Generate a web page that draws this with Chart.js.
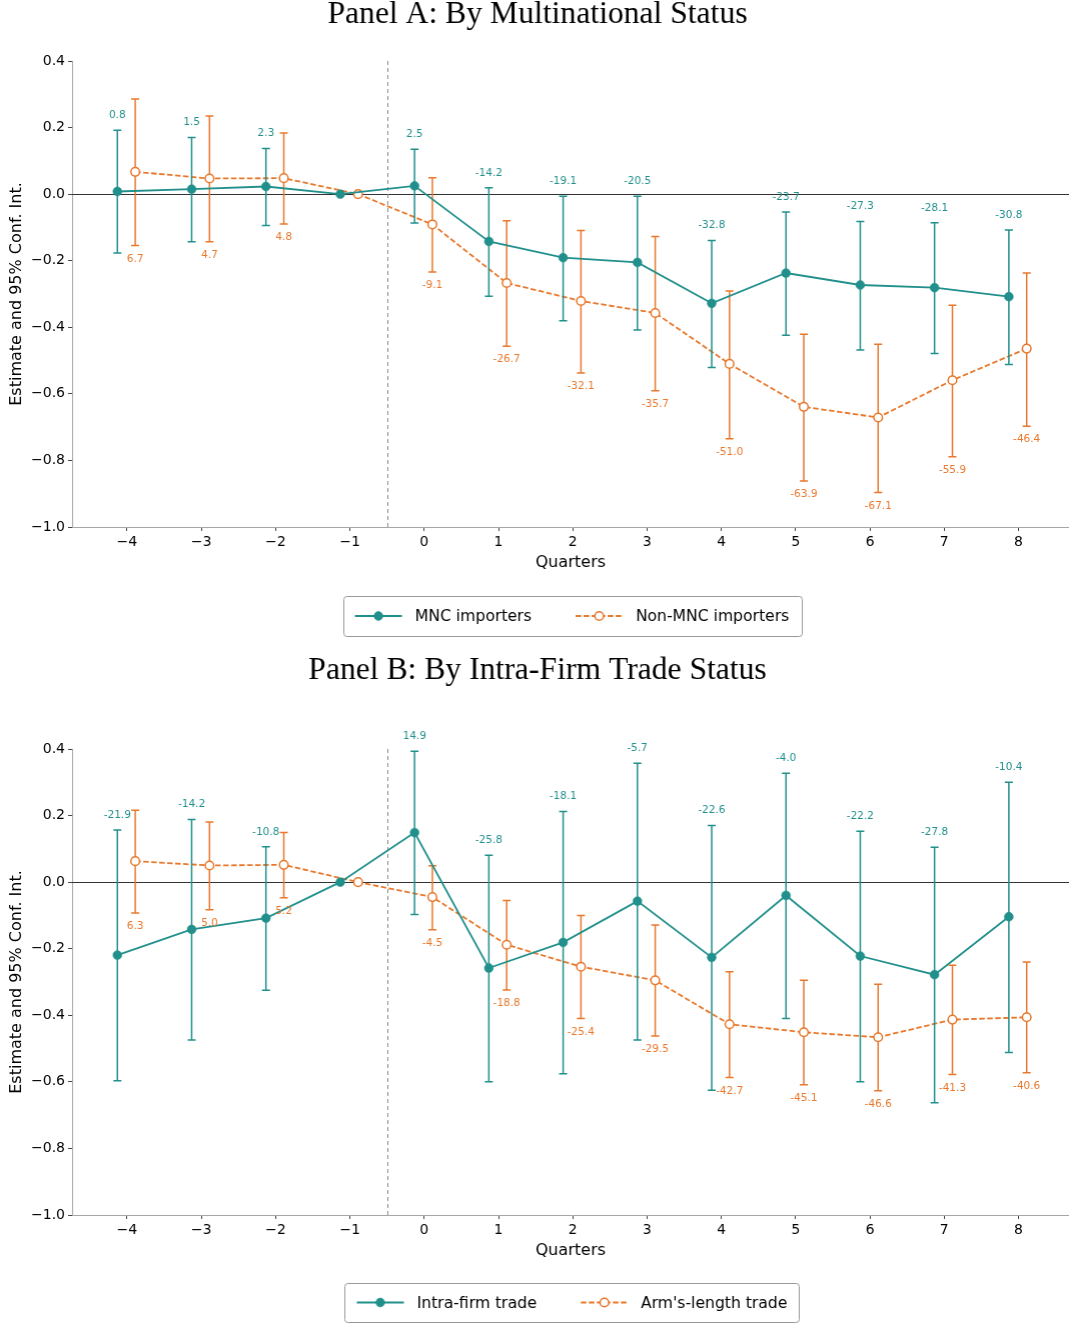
<!DOCTYPE html>
<html>
<head>
<meta charset="utf-8">
<script src="https://cdn.jsdelivr.net/npm/chart.js@4.4.0/dist/chart.umd.min.js"></script>
<style>
  body { margin: 0; background: #fff; width: 1069px; height: 1323px; overflow: hidden; position: relative; }
  .panel { position: absolute; left: 0; width: 1069px; }
</style>
</head>
<body>
<div class="panel" id="wrapA" style="top:0;height:640px"><canvas id="chartA"></canvas></div>
<div class="panel" id="wrapB" style="top:640px;height:683px"><canvas id="chartB"></canvas></div>
<script>
// --- data ---
const quarters = [-4, -3, -2, -1, 0, 1, 2, 3, 4, 5, 6, 7, 8];
const yTicks = [-1.0, -0.8, -0.6, -0.4, -0.2, 0.0, 0.2, 0.4];

// Panel A: by multinational status
const mncEst = [0.008, 0.015, 0.023, 0, 0.025, -0.142, -0.191, -0.205, -0.328, -0.237, -0.273, -0.281, -0.308];
const mncLo  = [-0.177, -0.143, -0.094, null, -0.087, -0.307, -0.380, -0.408, -0.521, -0.424, -0.468, -0.479, -0.512];
const mncHi  = [0.192, 0.170, 0.137, null, 0.135, 0.019, -0.006, -0.006, -0.139, -0.054, -0.082, -0.086, -0.108];
const nonEst = [0.067, 0.047, 0.048, 0, -0.091, -0.267, -0.321, -0.357, -0.510, -0.639, -0.671, -0.559, -0.464];
const nonLo  = [-0.154, -0.143, -0.090, null, -0.234, -0.457, -0.537, -0.591, -0.735, -0.862, -0.896, -0.789, -0.697];
const nonHi  = [0.286, 0.235, 0.184, null, 0.049, -0.080, -0.109, -0.127, -0.291, -0.421, -0.451, -0.334, -0.237];

// Panel B: by intra-firm trade status
const intraEst = [-0.219, -0.142, -0.108, 0, 0.149, -0.258, -0.181, -0.057, -0.226, -0.040, -0.222, -0.278, -0.104];
const intraLo  = [-0.597, -0.474, -0.325, null, -0.097, -0.600, -0.576, -0.474, -0.625, -0.410, -0.600, -0.663, -0.512];
const intraHi  = [0.157, 0.188, 0.106, null, 0.393, 0.081, 0.212, 0.357, 0.170, 0.327, 0.153, 0.105, 0.300];
const armEst = [0.063, 0.050, 0.052, 0, -0.045, -0.188, -0.254, -0.295, -0.427, -0.451, -0.466, -0.413, -0.406];
const armLo  = [-0.093, -0.083, -0.047, null, -0.143, -0.324, -0.410, -0.462, -0.587, -0.609, -0.627, -0.578, -0.573];
const armHi  = [0.216, 0.181, 0.149, null, 0.049, -0.055, -0.100, -0.129, -0.269, -0.295, -0.307, -0.250, -0.240];

const TEAL = '#21908c';
const ORANGE = '#e8782c';
const FONT = '"DejaVu Sans", sans-serif';
const PLOT_RIGHT = 1068;

const minus = s => String(s).replace('-', '\u2212');

// error bars + value labels + reference lines + title + legend
const panelExtras = {
  id: 'panelExtras',
  beforeDatasetsDraw(chart) {
    const { ctx, chartArea: a, scales: { x, y } } = chart;
    ctx.save();
    // zero line
    ctx.strokeStyle = '#333';
    ctx.lineWidth = 1;
    const y0 = Math.round(y.getPixelForValue(0)) + 0.5;
    ctx.beginPath(); ctx.moveTo(a.left, y0); ctx.lineTo(a.right, y0); ctx.stroke();
    // treatment line at -0.5
    const xv = Math.round(x.getPixelForValue(-0.5)) + 0.5;
    ctx.strokeStyle = '#888';
    ctx.setLineDash([4, 3]);
    ctx.beginPath(); ctx.moveTo(xv, a.top); ctx.lineTo(xv, a.bottom); ctx.stroke();
    ctx.restore();
  },
  beforeDatasetDraw(chart, args) {
    const ds = chart.data.datasets[args.index];
    const { ctx, scales: { x, y } } = chart;
    ctx.save();
    ctx.strokeStyle = ds.borderColor;
    ctx.lineWidth = 1.5;
    ds.data.forEach((p, i) => {
      if (ds.lo[i] == null) return;
      const px = x.getPixelForValue(p.x);
      const y1 = y.getPixelForValue(ds.lo[i]);
      const y2 = y.getPixelForValue(ds.hi[i]);
      ctx.beginPath();
      ctx.moveTo(px, y1); ctx.lineTo(px, y2);
      ctx.moveTo(px - 4, y1); ctx.lineTo(px + 4, y1);
      ctx.moveTo(px - 4, y2); ctx.lineTo(px + 4, y2);
      ctx.stroke();
    });
    ctx.restore();
  },
  afterDatasetsDraw(chart) {
    const { ctx, scales: { x, y } } = chart;
    ctx.save();
    ctx.font = '10.5px ' + FONT;
    ctx.textAlign = 'center';
    ctx.textBaseline = 'middle';
    chart.data.datasets.forEach(ds => {
      ctx.fillStyle = ds.borderColor;
      ds.data.forEach((p, i) => {
        if (ds.lo[i] == null) return;
        const txt = (p.y * 100).toFixed(1);
        const px = x.getPixelForValue(p.x);
        const py = ds.labelAbove ? y.getPixelForValue(ds.hi[i]) - 15 : y.getPixelForValue(ds.lo[i]) + 13.5;
        ctx.fillText(txt, px, py);
      });
    });
    ctx.restore();
  },
  afterDraw(chart, args, opts) {
    const { ctx } = chart;
    ctx.save();
    // panel title
    ctx.font = '31.6px "Liberation Serif", serif';
    ctx.fillStyle = '#000';
    ctx.textAlign = 'center';
    ctx.textBaseline = 'middle';
    ctx.fillText(opts.title, 537, opts.titleY);

    // legend box
    ctx.font = '15.6px ' + FONT;
    const pad = 12, handleW = 47, gap = 13, itemGap = 44;
    const ws = chart.data.datasets.map(ds => ctx.measureText(ds.label).width);
    const total = pad * 2 + ws.reduce((s, w) => s + handleW + gap + w, 0) + itemGap * (ws.length - 1);
    const left = 571.5 - total / 2;
    const top = opts.legendTop, h = opts.legendH;
    ctx.strokeStyle = '#999';
    ctx.lineWidth = 1;
    ctx.beginPath();
    ctx.roundRect(Math.round(left) + 0.5, Math.round(top) + 0.5, Math.round(total), h, 3);
    ctx.stroke();
    const cy = top + h / 2;
    let cx = left + pad;
    chart.data.datasets.forEach((ds, i) => {
      ctx.strokeStyle = ds.borderColor;
      ctx.lineWidth = 1.8;
      ctx.setLineDash(ds.borderDash || []);
      ctx.beginPath(); ctx.moveTo(cx, cy); ctx.lineTo(cx + handleW, cy); ctx.stroke();
      ctx.setLineDash([]);
      ctx.beginPath();
      ctx.arc(cx + handleW / 2, cy, ds.pointRadius, 0, Math.PI * 2);
      ctx.fillStyle = ds.pointBackgroundColor;
      ctx.fill();
      ctx.lineWidth = ds.pointBorderWidth;
      ctx.strokeStyle = ds.pointBorderColor;
      ctx.stroke();
      ctx.fillStyle = '#000';
      ctx.textAlign = 'left';
      ctx.fillText(ds.label, cx + handleW + gap, cy + 1);
      cx += handleW + gap + ws[i] + itemGap;
    });
    ctx.restore();
  }
};

function series(label, est, lo, hi, offset, color, hollow, labelAbove) {
  return {
    label,
    data: quarters.map((q, i) => ({ x: q + offset, y: est[i] })),
    lo, hi, labelAbove,
    borderColor: color,
    borderWidth: 1.8,
    borderDash: hollow ? [5.5, 2.5] : undefined,
    pointRadius: hollow ? 4.3 : 4.4,
    pointHoverRadius: hollow ? 4.3 : 4.4,
    pointBorderWidth: hollow ? 1.5 : 0.6,
    pointBackgroundColor: hollow ? '#fff' : color,
    pointBorderColor: color,
    tension: 0,
    fill: false
  };
}

function makePanel(id, wrapId, datasets, layout) {
  const chart = new Chart(document.getElementById(id), {
    type: 'line',
    data: { datasets },
    options: {
      responsive: true,
      maintainAspectRatio: false,
      animation: false,
      layout: { padding: { left: 0, right: 1, top: layout.plotTop, bottom: layout.padBottom } },
      plugins: {
        legend: { display: false },
        tooltip: { enabled: false },
        panelExtras: layout
      },
      scales: {
        x: {
          type: 'linear',
          min: -4.74,
          max: 8.68,
          afterBuildTicks: s => { s.ticks = quarters.map(v => ({ value: v })); },
          afterFit: s => { s.height = 45; },
          ticks: { color: '#000', font: { family: FONT, size: 14 }, padding: 3, maxRotation: 0,
                   callback: v => minus(v) },
          grid: { drawOnChartArea: false, drawTicks: true, tickLength: 4, color: '#444' },
          border: { color: '#a6a6a6', width: 1 },
          title: { display: true, text: 'Quarters', color: '#000', font: { family: FONT, size: 16 },
                   padding: { top: 0, bottom: 0 } }
        },
        y: {
          min: -1.0,
          max: 0.4,
          afterBuildTicks: s => { s.ticks = yTicks.map(v => ({ value: v })); },
          afterFit: s => { s.width = 72; },
          ticks: { color: '#000', font: { family: FONT, size: 14 }, padding: 3,
                   callback: v => Math.abs(v) < 1e-9 ? '0.0' : minus(v.toFixed(1)) },
          grid: { drawOnChartArea: false, drawTicks: true, tickLength: 4, color: '#444' },
          border: { color: '#a6a6a6', width: 1 },
          title: { display: true, text: 'Estimate and 95% Conf. Int.', color: '#000',
                   font: { family: FONT, size: 16 }, padding: { top: 7, bottom: 0 } }
        }
      }
    },
    plugins: [panelExtras]
  });
  // Chart.js trims a few px on the right; widen the canvas so the plot ends where it should
  const diff = PLOT_RIGHT - chart.chartArea.right;
  if (Math.abs(diff) > 0.5) {
    const wrap = document.getElementById(wrapId);
    wrap.style.width = (1069 + diff) + 'px';
    chart.resize();
  }
  return chart;
}

makePanel('chartA', 'wrapA', [
  series('MNC importers', mncEst, mncLo, mncHi, -0.13, TEAL, false, true),
  series('Non-MNC importers', nonEst, nonLo, nonHi, 0.11, ORANGE, true, false)
], { title: 'Panel A: By Multinational Status', titleY: 15, plotTop: 61, padBottom: 68, legendTop: 596, legendH: 40 });

makePanel('chartB', 'wrapB', [
  series('Intra-firm trade', intraEst, intraLo, intraHi, -0.13, TEAL, false, true),
  series("Arm's-length trade", armEst, armLo, armHi, 0.11, ORANGE, true, false)
], { title: 'Panel B: By Intra-Firm Trade Status', titleY: 31, plotTop: 109, padBottom: 63, legendTop: 643, legendH: 39 });
</script>
</body>
</html>
